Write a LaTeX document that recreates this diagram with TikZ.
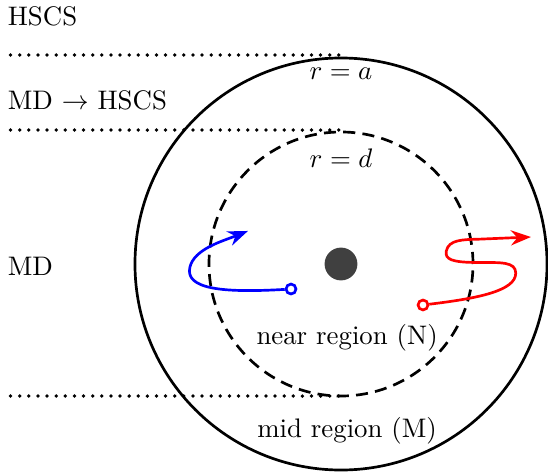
\documentclass[tikz,border=0pt]{standalone}
\usepackage{amsmath}
\usetikzlibrary{positioning,arrows.meta,calc}

\begin{document}
\begin{tikzpicture}[>=Stealth,
  zone/.style={line width=1.4pt,line cap=round,dash pattern=on 0pt off 3.4pt},
  start/.style={circle,draw,line width=1pt,fill=white,inner sep=0pt,minimum size=1.3mm}]
  \useasboundingbox (-4.469,-2.713) rectangle (2.713,3.460);
  \coordinate (O) at (0,0);
  % circles
  \draw[line width=1pt] (O) circle (2.70);
  \draw[line width=1pt,dash pattern=on 4.5pt off 2.7pt] (O) circle (1.730);
  \node[circle,fill=black!75,minimum size=4.3mm,inner sep=0pt] (core) at (O) {};
  % zone boundaries
  \coordinate (a0) at (-4.33,2.739);
  \coordinate (d0) at (-4.33,1.756);
  \coordinate (m0) at (-4.33,-1.730);
  \draw[zone] (a0) -- (a0 -| O);
  \draw[zone] (d0) -- (d0 -| O);
  \draw[zone] (m0) -- (m0 -| O);
  \node[anchor=west] (hscs) at (-4.49,3.24) {HSCS};
  \node[anchor=west] (mdhscs) at (-4.49,2.15) {MD $\rightarrow$ HSCS};
  \node[anchor=west] (md) at (-4.49,-0.03) {MD};
  \node (ra) at (0,2.50) {$r = a$};
  \node (rd) at (0,1.39) {$r = d$};
  \node (near) at (0.08,-0.97) {near region (N)};
  \node (mid) at (0.08,-2.18) {mid region (M)};
  % trajectories
  \node[start,draw=blue] (bstart) at (-0.655,-0.328) {};
  \coordinate (bend) at (-1.219,0.433);
  \draw[->,line width=1pt,blue] (bstart) .. controls (-1.55,-0.38) and (-2.05,-0.33) .. (-1.98,-0.04)
    .. controls (-1.92,0.2) and (-1.55,0.3) .. (bend);
  \node[start,draw=red] (rstart) at (1.075,-0.537) {};
  \coordinate (rend) at (2.49,0.354);
  \draw[->,line width=1pt,red] (rstart) .. controls (1.8,-0.45) and (2.29,-0.35) .. (2.29,-0.12)
    .. controls (2.29,0.03) and (2.1,0.02) .. (1.8,0.02)
    .. controls (1.45,0.02) and (1.36,0.06) .. (1.38,0.17)
    .. controls (1.41,0.32) and (1.6,0.32) .. (1.8,0.325) -- (rend);
\end{tikzpicture}
\end{document}
